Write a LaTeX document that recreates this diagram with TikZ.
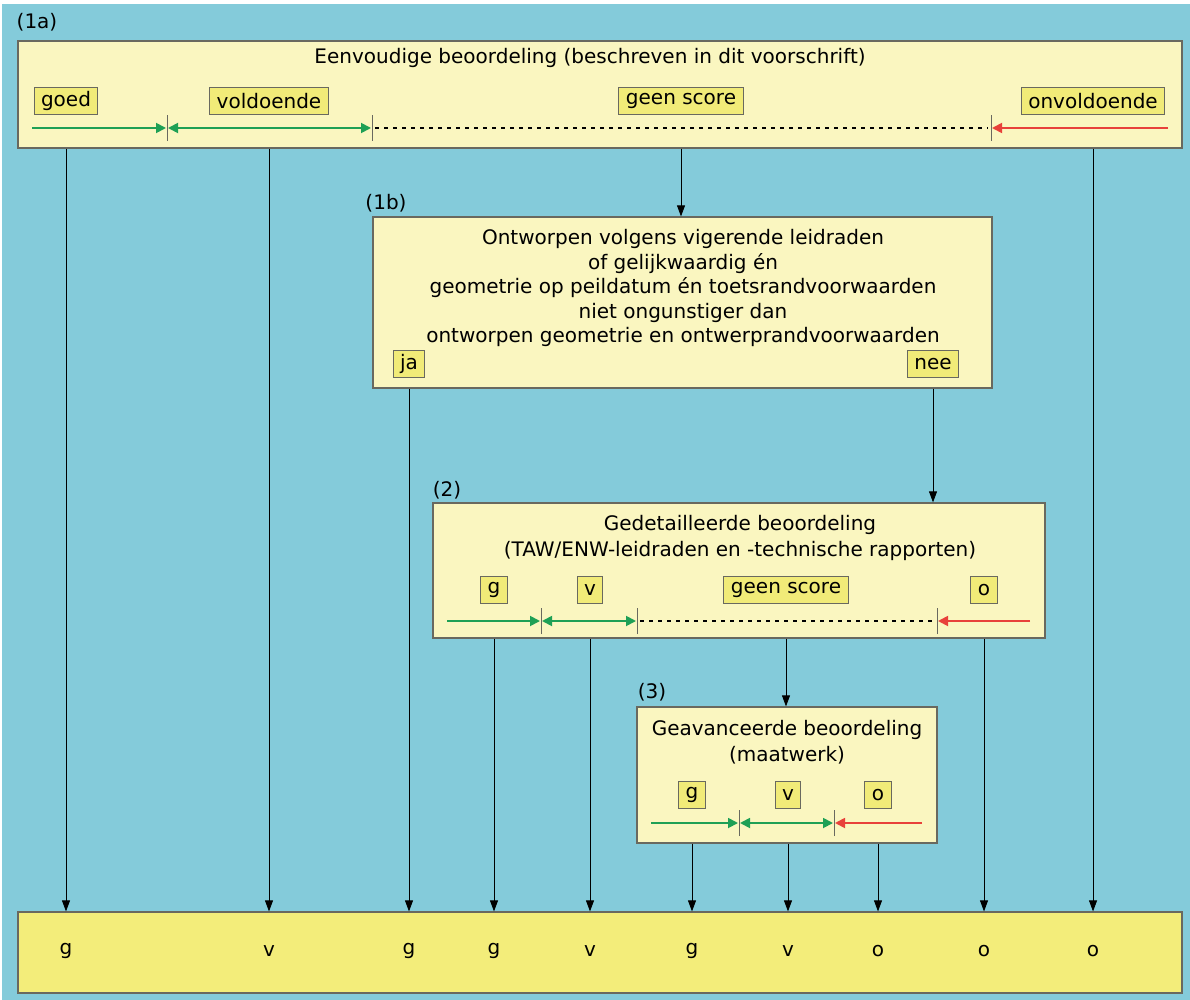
\documentclass[tikz,border=0pt]{standalone}
\usepackage{fontspec}
\setmainfont{DejaVu Sans}
\usetikzlibrary{arrows.meta}

\definecolor{bgblue}{RGB}{132,203,218}
\definecolor{paper}{RGB}{250,246,192}
\definecolor{tagfill}{RGB}{241,235,120}
\definecolor{resfill}{RGB}{243,237,122}
\definecolor{okgreen}{RGB}{30,160,85}
\definecolor{badred}{RGB}{232,65,58}
\definecolor{edge}{RGB}{105,105,95}

\tikzset{
  stage/.style={draw=edge, fill=paper, line width=1.2pt, inner sep=0pt},
  tag/.style={draw=edge, fill=tagfill, line width=1pt, minimum height=27,
    minimum width=24, inner xsep=7, inner ysep=0},
  good/.style={okgreen, line width=1.8pt, -{Triangle[length=10pt,width=10pt]}},
  goodboth/.style={okgreen, line width=1.8pt, {Triangle[length=10pt,width=10pt]}-{Triangle[length=10pt,width=10pt]}},
  bad/.style={badred, line width=1.8pt, -{Triangle[length=10pt,width=10pt]}},
  noscore/.style={black, line width=1.4pt, dash pattern=on 4pt off 5pt},
  tick/.style={edge, line width=1pt},
  flow/.style={black, line width=0.8pt, -{Triangle[length=11pt,width=8pt]}},
  stepname/.style={anchor=center}
}

\begin{document}
\begin{tikzpicture}[x=1pt, y=-1pt, font=\fontsize{20}{25.5}\selectfont]
  \useasboundingbox (0,0) rectangle (1190,1000);
  \fill[bgblue] (2,4) rectangle (1190,1000);

  % (1a) eenvoudige beoordeling
  \node[stepname] (n1a) at (37,22) {(1a)};
  \node[stage, minimum width=1164, minimum height=107] (b1a) at (600,94.5) {};
  \node (t1a) at (590,58) {Eenvoudige beoordeling (beschreven in dit voorschrift)};
  \node[tag] (goed) at (66,101) {goed};
  \node[tag] (vold) at (269,101) {voldoende};
  \node[tag] (gs1a) at (681,101) {geen score};
  \node[tag] (onv) at (1093,101) {onvoldoende};
  \coordinate (s1a) at (32,128);
  \coordinate (k1a1) at (167,128);
  \coordinate (k1a2) at (372,128);
  \coordinate (k1a3) at (991,128);
  \coordinate (e1a) at (1168,128);
  \foreach \k in {k1a1,k1a2,k1a3}
    \draw[tick] ([yshift=-13pt]\k) -- ([yshift=13pt]\k);
  \draw[good] (s1a) -- ([xshift=-1pt]k1a1);
  \draw[goodboth] ([xshift=1pt]k1a1) -- ([xshift=-1pt]k1a2);
  \draw[noscore] ([xshift=3pt]k1a2) -- ([xshift=-3pt]k1a3);
  \draw[bad] (e1a) -- ([xshift=1pt]k1a3);

  % (1b) ontwerp-toets
  \node[stepname] (n1b) at (386,203) {(1b)};
  \node[stage, minimum width=619, minimum height=171] (b1b) at (682.5,302.5) {};
  \node[align=center, font=\fontsize{20}{24.5}\selectfont] (t1b) at (683,288)
    {Ontworpen volgens vigerende leidraden\\
    of gelijkwaardig én\\
    geometrie op peildatum én toetsrandvoorwaarden\\
    niet ongunstiger dan\\
    ontworpen geometrie en ontwerprandvoorwaarden};
  \node[tag] (ja) at (409,364) {ja};
  \node[tag] (nee) at (933,364) {nee};

  % (2) gedetailleerde beoordeling
  \node[stepname] (n2) at (447,490) {(2)};
  \node[stage, minimum width=612, minimum height=135] (b2) at (739,570.5) {};
  \node[align=center] (t2) at (740,538) {Gedetailleerde beoordeling\\
    (TAW/ENW-leidraden en -technische rapporten)};
  \node[tag] (g2) at (494,590) {g};
  \node[tag] (v2) at (590,590) {v};
  \node[tag] (gs2) at (786,590) {geen score};
  \node[tag] (o2) at (984,590) {o};
  \coordinate (s2) at (447,621);
  \coordinate (k21) at (541,621);
  \coordinate (k22) at (637,621);
  \coordinate (k23) at (937,621);
  \coordinate (e2) at (1030,621);
  \foreach \k in {k21,k22,k23}
    \draw[tick] ([yshift=-13pt]\k) -- ([yshift=13pt]\k);
  \draw[good] (s2) -- ([xshift=-1pt]k21);
  \draw[goodboth] ([xshift=1pt]k21) -- ([xshift=-1pt]k22);
  \draw[noscore] ([xshift=3pt]k22) -- ([xshift=-3pt]k23);
  \draw[bad] (e2) -- ([xshift=1pt]k23);

  % (3) geavanceerde beoordeling
  \node[stepname] (n3) at (652,692) {(3)};
  \node[stage, minimum width=300, minimum height=136] (b3) at (787,775) {};
  \node[align=center] (t3) at (787,742) {Geavanceerde beoordeling\\(maatwerk)};
  \node[tag] (g3) at (692,795) {g};
  \node[tag] (v3) at (788,795) {v};
  \node[tag] (o3) at (878,795) {o};
  \coordinate (s3) at (651,823);
  \coordinate (k31) at (739,823);
  \coordinate (k32) at (834,823);
  \coordinate (e3) at (922,823);
  \foreach \k in {k31,k32}
    \draw[tick] ([yshift=-13pt]\k) -- ([yshift=13pt]\k);
  \draw[good] (s3) -- ([xshift=-1pt]k31);
  \draw[goodboth] ([xshift=1pt]k31) -- ([xshift=-1pt]k32);
  \draw[bad] (e3) -- ([xshift=1pt]k32);

  % eindoordeel
  \node[stage, fill=resfill, minimum width=1164, minimum height=81] (res) at (600,952.5) {};
  \foreach \r/\x/\t in {r1/66/g, r2/269/v, r3/409/g, r4/494/g, r5/590/v,
                         r6/692/g, r7/788/v, r8/878/o, r9/984/o, r10/1093/o}
    \node (\r) at (\x,951) {\t};

  % verbindingen
  \draw[flow] (gs1a |- b1a.south) -- (gs1a |- b1b.north);
  \draw[flow] (nee |- b1b.south) -- (nee |- b2.north);
  \draw[flow] (gs2 |- b2.south) -- (gs2 |- b3.north);
  \draw[flow] (goed |- b1a.south) -- (r1 |- res.north);
  \draw[flow] (vold |- b1a.south) -- (r2 |- res.north);
  \draw[flow] (onv |- b1a.south) -- (r10 |- res.north);
  \draw[flow] (ja |- b1b.south) -- (r3 |- res.north);
  \draw[flow] (g2 |- b2.south) -- (r4 |- res.north);
  \draw[flow] (v2 |- b2.south) -- (r5 |- res.north);
  \draw[flow] (o2 |- b2.south) -- (r9 |- res.north);
  \draw[flow] (g3 |- b3.south) -- (r6 |- res.north);
  \draw[flow] (v3 |- b3.south) -- (r7 |- res.north);
  \draw[flow] (o3 |- b3.south) -- (r8 |- res.north);
\end{tikzpicture}
\end{document}
